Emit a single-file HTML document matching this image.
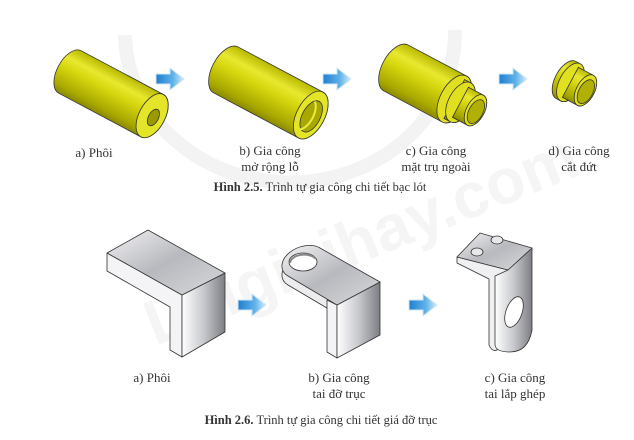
<!DOCTYPE html>
<html><head><meta charset="utf-8"><style>
html,body{margin:0;padding:0;background:#fff;}
svg{display:block;}
text{font-family:"Liberation Serif",serif;fill:#333;}
</style></head><body>
<svg width="634" height="440" viewBox="0 0 634 440" xmlns="http://www.w3.org/2000/svg">
<defs>
<linearGradient id="cy" x1="0" y1="0" x2="0" y2="1">
<stop offset="0" stop-color="#b8b800"/><stop offset="0.25" stop-color="#e8e830"/><stop offset="0.45" stop-color="#d8d810"/><stop offset="0.85" stop-color="#a8a800"/><stop offset="1" stop-color="#8a8a00"/>
</linearGradient>
<linearGradient id="ar" x1="0" y1="0" x2="1" y2="0">
<stop offset="0" stop-color="#1e7fcf"/><stop offset="0.6" stop-color="#5fb2e8"/><stop offset="1" stop-color="#d6eefa"/>
</linearGradient>
<linearGradient id="gtop" x1="0" y1="0" x2="1" y2="1">
<stop offset="0" stop-color="#f2f2f4"/><stop offset="0.5" stop-color="#b8b9be"/><stop offset="1" stop-color="#d8d9dc"/>
</linearGradient>
<linearGradient id="gside" x1="0" y1="0" x2="1" y2="0">
<stop offset="0" stop-color="#ffffff"/><stop offset="0.5" stop-color="#c8c9cd"/><stop offset="1" stop-color="#7d7e84"/>
</linearGradient>
<g id="arrow"><path d="M0,6 H14 V0 L28,11 L14,22 V16 H0 Z" fill="url(#ar)" stroke="#cfe6f5" stroke-width="1"/></g>
</defs>

<!-- watermark -->
<path d="M125,35 A165,150 0 0 0 455,30" fill="none" stroke="#f3f3f3" stroke-width="14"/>
<text x="130" y="285" transform="rotate(-22 300 250)" style="font-family:'Liberation Sans',sans-serif;font-size:64px;font-weight:bold;fill:#f5f5f5">Loigiaihay.com</text>

<!-- cylinder a -->
<g transform="translate(70,72) rotate(28)" stroke="#333" stroke-width="0.8">
<path d="M0,-24 H93 A13,24 0 0 1 93,24 H0 A13,24 0 0 1 0,-24 Z" fill="url(#cy)"/>
<ellipse cx="93" cy="0" rx="13" ry="24" fill="#e4e428"/>
<ellipse cx="95" cy="1" rx="5" ry="9" fill="#9a9a00"/>
</g>
<!-- cylinder b -->
<g transform="translate(226,70) rotate(28)" stroke="#333" stroke-width="0.8">
<path d="M0,-26 H96 A14,26 0 0 1 96,26 H0 A14,26 0 0 1 0,-26 Z" fill="url(#cy)"/>
<ellipse cx="96" cy="0" rx="14" ry="26" fill="#e4e428"/>
<ellipse cx="97" cy="1" rx="9" ry="17" fill="#a8a800"/>
<path d="M93,-14 A9,17 0 0 1 93,18" fill="none" stroke="#eaea40" stroke-width="2"/>
</g>
<!-- cylinder c -->
<g transform="translate(396,68) rotate(28)" stroke="#333" stroke-width="0.8">
<path d="M0,-26 H66 A14,26 0 0 1 66,26 H0 A14,26 0 0 1 0,-26 Z" fill="url(#cy)"/>
<ellipse cx="66" cy="0" rx="14" ry="26" fill="#e0e020"/>
<path d="M66,-22 H73 A12,22 0 0 1 73,22 H66 Z" fill="url(#cy)"/>
<ellipse cx="73" cy="0" rx="12" ry="22" fill="#e0e020"/>
<path d="M73,-17 H90 A9,17 0 0 1 90,17 H73 Z" fill="url(#cy)"/>
<ellipse cx="90" cy="0" rx="9" ry="17" fill="#e0e020"/>
<ellipse cx="91" cy="1" rx="7" ry="13" fill="#b0b000"/>
</g>
<!-- d -->
<g transform="translate(566,80) rotate(28)" stroke="#333" stroke-width="0.8">
<path d="M0,-21 H5 A11,21 0 0 1 5,21 H0 A11,21 0 0 1 0,-21 Z" fill="url(#cy)"/>
<ellipse cx="5" cy="0" rx="11" ry="21" fill="#e0e020"/>
<path d="M5,-17 H22 A9,17 0 0 1 22,17 H5 Z" fill="url(#cy)"/>
<ellipse cx="22" cy="0" rx="9" ry="17" fill="#e0e020"/>
<ellipse cx="23" cy="1" rx="7" ry="13" fill="#b0b000"/>
</g>

<use href="#arrow" x="156" y="68"/>
<use href="#arrow" x="323" y="68"/>
<use href="#arrow" x="499" y="68"/>

<g font-size="13" text-anchor="middle">
<text x="94" y="157">a) Phôi</text>
<text x="270" y="155">b) Gia công</text><text x="270" y="171">mở rộng lỗ</text>
<text x="436" y="155">c) Gia công</text><text x="436" y="171">mặt trụ ngoài</text>
<text x="579" y="155">d) Gia công</text><text x="579" y="171">cắt đứt</text>
</g>
<text x="320" y="191" font-size="12.5" text-anchor="middle"><tspan font-weight="bold">Hình 2.5.</tspan> Trình tự gia công chi tiết bạc lót</text>

<!-- block a -->
<g stroke="#333" stroke-width="0.8" stroke-linejoin="round">
<path d="M107,253 L182,295 L182,357 L170,350 L170,307 L107,271 Z" fill="#f4f4f6"/>
<path d="M182,295 L225,273 L225,332 L182,357 Z" fill="url(#gside)"/>
<path d="M107,253 L148,230 L225,273 L182,295 Z" fill="url(#gtop)"/>
</g>
<!-- block b -->
<g stroke="#333" stroke-width="0.8" stroke-linejoin="round">
<path d="M337,314 L380,291 L320,257 A22,15 -20 1 0 288,285 Z" fill="#ececee"/>
<path d="M327,300 L337,305 L337,358 L327,352 Z" fill="#f4f4f6"/>
<path d="M337,305 L380,282 L380,335 L337,358 Z" fill="url(#gside)"/>
<path d="M337,305 L380,282 L320,248 A22,15 -20 1 0 288,276 Z" fill="url(#gtop)"/>
<ellipse cx="303" cy="262" rx="14" ry="9" fill="#fff"/>
<path d="M290,263 A14,9 0 0 1 316,259" fill="none" stroke="#888" stroke-width="2"/>
</g>
<!-- block c -->
<g stroke="#333" stroke-width="0.8" stroke-linejoin="round">
<path d="M457,257 L457,263 L489,279 L489,345 Q492,352 497,350 L508,276 L508,270 Z" fill="#f0f0f2"/>
<path d="M508,270 L532,248 L532,330 Q528,352 510,352 Q496,352 495,345 L495,276 Z" fill="url(#gside)"/>
<path d="M457,257 L480,233 L532,248 L508,270 Z" fill="url(#gtop)"/>
<ellipse cx="477" cy="252" rx="6" ry="4" fill="#e8e8ea"/>
<ellipse cx="497" cy="240" rx="6" ry="4" fill="#e8e8ea"/>
<ellipse cx="514" cy="312" rx="8" ry="16" transform="rotate(20 514 312)" fill="#fff"/>
</g>

<use href="#arrow" x="238" y="294"/>
<use href="#arrow" x="409" y="294"/>

<g font-size="13" text-anchor="middle">
<text x="152" y="382">a) Phôi</text>
<text x="339" y="382">b) Gia công</text><text x="339" y="398">tai đỡ trục</text>
<text x="515" y="382">c) Gia công</text><text x="515" y="398">tai lắp ghép</text>
</g>
<text x="321" y="424" font-size="12.5" text-anchor="middle"><tspan font-weight="bold">Hình 2.6.</tspan> Trình tự gia công chi tiết giá đỡ trục</text>
</svg>
</body></html>
